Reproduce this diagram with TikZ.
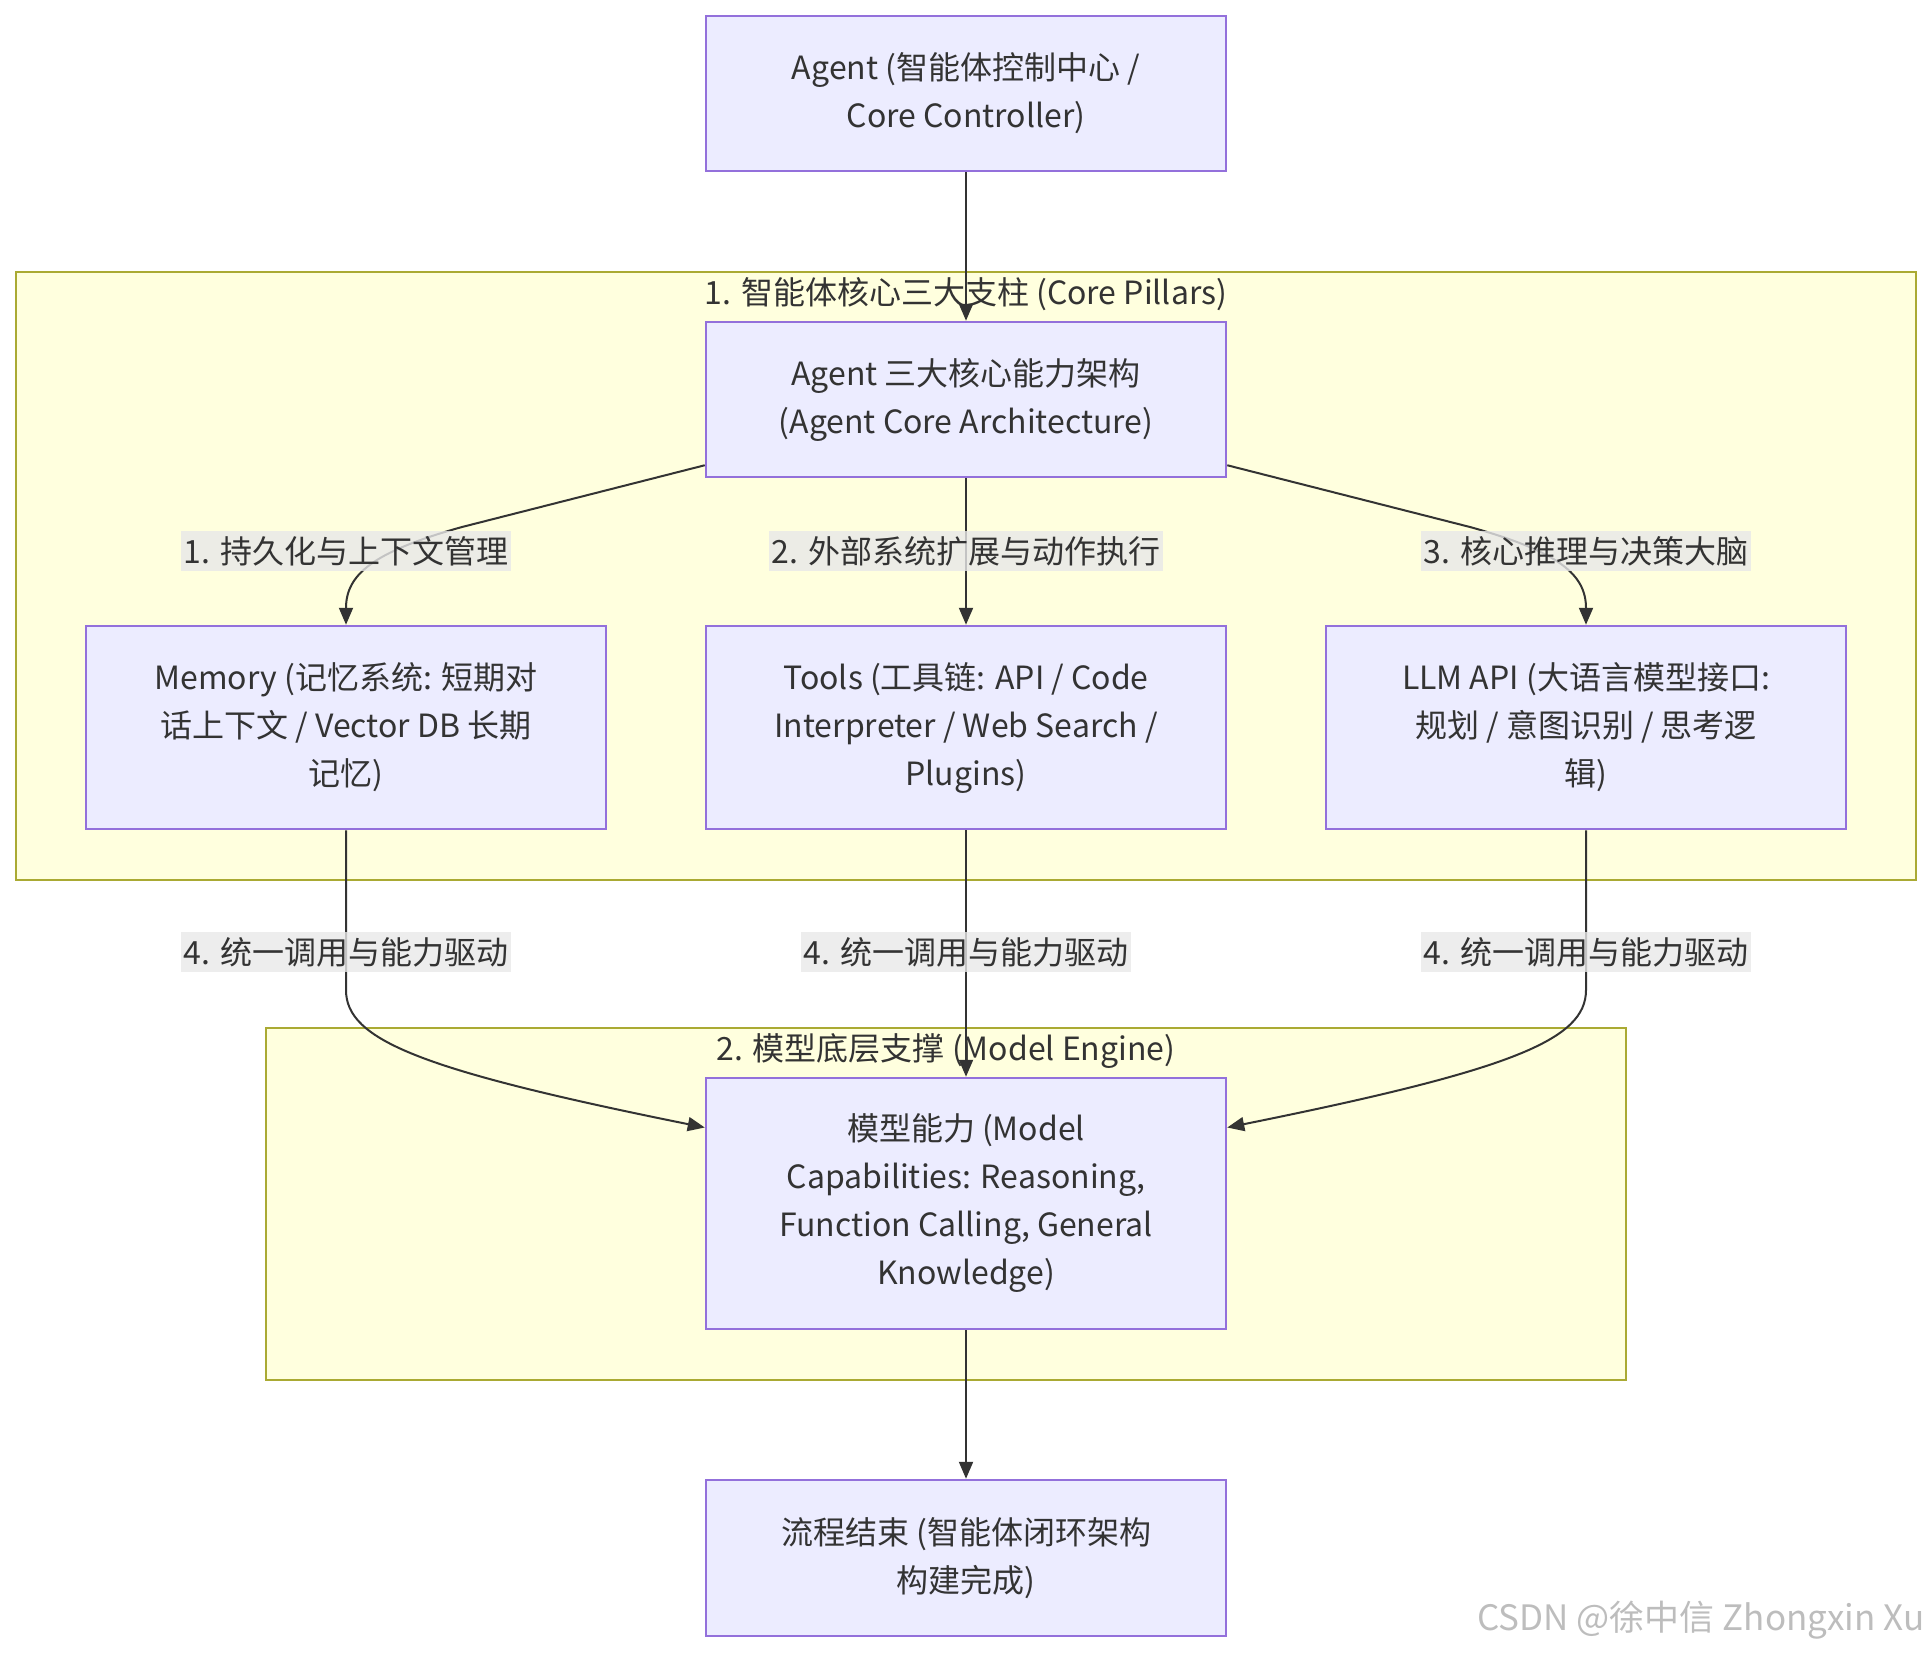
\documentclass[tikz,border=0pt]{standalone}
\usepackage{fontspec}
\setmainfont{Noto Sans CJK SC}
\usetikzlibrary{arrows.meta}
\definecolor{nodefill}{HTML}{ECECFF}
\definecolor{nodeline}{HTML}{9370DB}
\definecolor{grpfill}{HTML}{FFFFDE}
\definecolor{grpline}{HTML}{AAAA33}
\definecolor{ink}{HTML}{333333}
\definecolor{lblfill}{HTML}{E8E8E8}
\definecolor{wmark}{HTML}{BDBDBD}
\begin{document}
\begin{tikzpicture}[x=1pt,y=-1pt,
    every node/.style={text=ink,font=\fontsize{32}{48}\selectfont},
    blk/.style={draw=nodeline,fill=nodefill,line width=2.5pt,minimum width=520pt,inner sep=0pt,align=center},
    grp/.style={draw=grpline,fill=grpfill,line width=2.5pt},
    flow/.style={draw=ink,line width=2pt,-{Triangle[length=17pt,width=14pt]}},
    edgelbl/.style={fill=lblfill,fill opacity=0.8,text opacity=1,inner xsep=3pt,inner ysep=5pt}]
    \useasboundingbox (0,0) rectangle (1932,1652);
    \draw[grp] (16,272) rectangle (1916,880);
    \draw[grp] (266,1028) rectangle (1626,1380);
    \node (pillars) at (966,294) {1. 智能体核心三大支柱 (Core Pillars)};
    \node (engine) at (946,1051) {2. 模型底层支撑 (Model Engine)};
    \node[blk,minimum height=155pt] (agent) at (966,93.5) {Agent (智能体控制中心 /\\Core Controller)};
    \node[blk,minimum height=155pt] (core) at (966,399.5) {Agent 三大核心能力架构\\(Agent Core Architecture)};
    \node[blk,minimum height=203pt] (mem) at (346,727.5) {Memory (记忆系统: 短期对\\话上下文 / Vector DB 长期\\记忆)};
    \node[blk,minimum height=203pt] (tools) at (966,727.5) {Tools (工具链: API / Code\\Interpreter / Web Search /\\Plugins)};
    \node[blk,minimum height=203pt] (llm) at (1586,727.5) {LLM API (大语言模型接口:\\规划 / 意图识别 / 思考逻\\辑)};
    \node[blk,minimum height=251pt] (model) at (966,1203.5) {模型能力 (Model\\Capabilities: Reasoning,\\Function Calling, General\\Knowledge)};
    \node[blk,minimum height=156pt] (finish) at (966,1558) {流程结束 (智能体闭环架构\\构建完成)};
    \draw[flow] (agent) -- (core);
    \draw[flow] ([yshift=13pt]core.south west) -- (462,527) .. controls (372,552) and (346,575) .. (mem.north);
    \draw[flow] (core) -- (tools);
    \draw[flow] ([yshift=13pt]core.south east) -- (1470,527) .. controls (1560,552) and (1586,575) .. (llm.north);
    \draw[flow] (mem) -- (346,990) .. controls (346,1040) and (420,1070) .. ([yshift=76pt]model.west);
    \draw[flow] (tools) -- (model);
    \draw[flow] (llm) -- (1586,990) .. controls (1586,1040) and (1512,1070) .. ([yshift=76pt]model.east);
    \draw[flow] (model) -- (finish);
    \node[edgelbl] (lblmem) at (346,551) {1. 持久化与上下文管理};
    \node[edgelbl] (lbltools) at (966,551) {2. 外部系统扩展与动作执行};
    \node[edgelbl] (lblllm) at (1586,551) {3. 核心推理与决策大脑};
    \node[edgelbl] (drvmem) at (346,952) {4. 统一调用与能力驱动};
    \node[edgelbl] (drvtools) at (966,952) {4. 统一调用与能力驱动};
    \node[edgelbl] (drvllm) at (1586,952) {4. 统一调用与能力驱动};
    \node[text=wmark,font=\fontsize{35}{40}\selectfont,anchor=east] (wm) at (1928,1620) {CSDN @徐中信 Zhongxin Xu};
\end{tikzpicture}
\end{document}
